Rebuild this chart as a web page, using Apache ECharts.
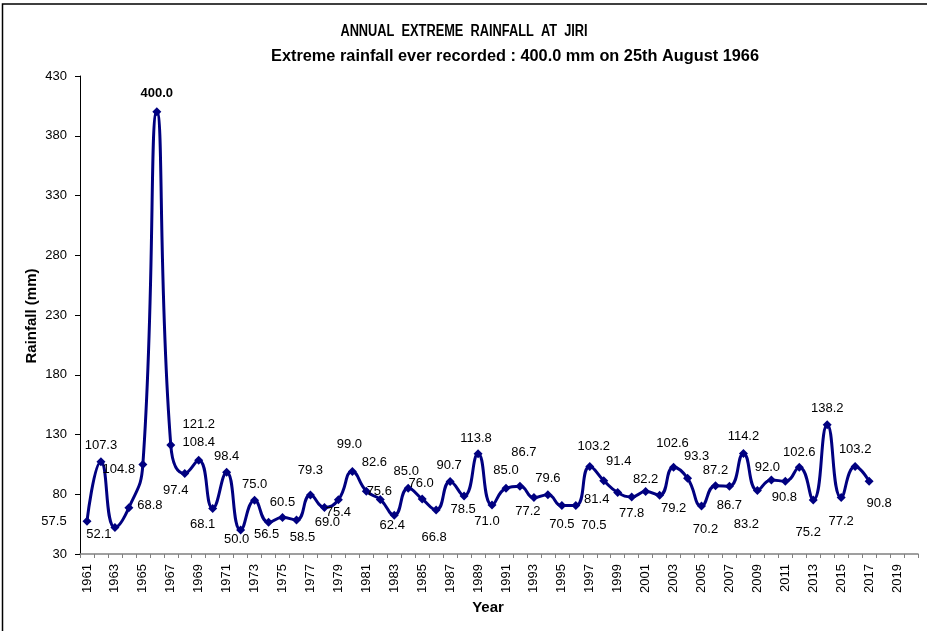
<!DOCTYPE html>
<html>
<head>
<meta charset="utf-8">
<title>Annual Extreme Rainfall at Jiri</title>
<script src="https://cdn.jsdelivr.net/npm/echarts@6/dist/echarts.min.js"></script>
<style>
  html, body { margin: 0; padding: 0; background: #fff; }
  #chart { width: 927px; height: 631px; }
</style>
</head>
<body>
<div id="chart"></div>
<script>
// years on the category axis (last three have no value)
const years = [
  '1961', '1962', '1963', '1964', '1965', '1966', '1967', '1968', '1969', '1970',
  '1971', '1972', '1973', '1974', '1975', '1976', '1977', '1978', '1979', '1980',
  '1981', '1982', '1983', '1984', '1985', '1986', '1987', '1988', '1989', '1990',
  '1991', '1992', '1993', '1994', '1995', '1996', '1997', '1998', '1999', '2000',
  '2001', '2002', '2003', '2004', '2005', '2006', '2007', '2008', '2009', '2010',
  '2011', '2012', '2013', '2014', '2015', '2016', '2017', '2018', '2019', '2020',
];

// annual extreme rainfall (mm), 1961 - 2017
const rainfall = [
  57.5, 107.3, 52.1, 68.8, 104.8, 400.0, 121.2, 97.4, 108.4, 68.1,
  98.4, 50.0, 75.0, 56.5, 60.5, 58.5, 79.3, 69.0, 75.4, 99.0,
  82.6, 75.6, 62.4, 85.0, 76.0, 66.8, 90.7, 78.5, 113.8, 71.0,
  85.0, 86.7, 77.2, 79.6, 70.5, 70.5, 103.2, 91.4, 81.4, 77.8,
  82.2, 79.2, 102.6, 93.3, 70.2, 87.2, 86.7, 114.2, 83.2, 92.0,
  90.8, 102.6, 75.2, 138.2, 77.2, 103.2, 90.8,
];

const yTicks = [30, 80, 130, 180, 230, 280, 330, 380, 430];

// where each value label sits relative to its marker (px)
const labelOffsets = [
  [-33, 0], [0, -16], [-16, 7], [21, -2], [-24, 5], [0, -18], [28, -21], [-9, 17], [0, -18], [-10, 16],
  [0, -16], [-4, 9], [0, -16], [-2, 12], [0, -15], [6, 17], [0, -25], [3, 15], [0, 13], [-3, -27],
  [8, -29], [-1, -8], [-2, 10], [-2, -17], [-1, -16], [-2, 27], [-1, -16], [-1, 13], [-2, -15], [-5, 16],
  [0, -18], [4, -34], [-6, 14], [0, -16], [0, 19], [18, 20], [4, -20], [15, -19], [-21, 7], [0, 17],
  [0, -12], [14, 13], [-1, -24], [9, -22], [4, 23], [0, -15], [0, 19], [0, -17], [-11, 34], [-4, -12],
  [-1, 16], [0, -15], [-5, 32], [0, -16], [0, 24], [0, -17], [10, 22],
];

const FONT = "'Liberation Sans', Arial, sans-serif";
const maxValue = Math.max(...rainfall);

const seriesData = rainfall.map((v, i) => ({
  value: v,
  label: {
    offset: labelOffsets[i],
    fontWeight: v === maxValue ? 'bold' : 'normal',
  },
}));

const chart = echarts.init(document.getElementById('chart'));

// helper for the centred texts drawn as graphics
function centredText(text, x, y, size, extra) {
  return Object.assign({
    type: 'text',
    x: x,
    y: y,
    silent: true,
    style: {
      text: text,
      font: 'bold ' + size + 'px ' + FONT,
      fill: '#000',
      textAlign: 'center',
      textVerticalAlign: 'middle',
    },
  }, extra || {});
}

chart.setOption({
  animation: false,
  backgroundColor: '#fff',
  textStyle: { fontFamily: FONT },
  grid: {
    left: 80,
    right: 9,
    top: 76,
    bottom: 77,
    containLabel: false,
  },
  graphic: [
    {
      type: 'rect',
      shape: { x: 2.5, y: 4, width: 940, height: 640 },
      style: { fill: 'none', stroke: '#000', lineWidth: 1.5 },
      silent: true,
    },
    centredText('ANNUAL  EXTREME  RAINFALL  AT  JIRI', 464, 32, 16, { scaleX: 0.8 }),
    centredText('Extreme rainfall ever recorded : 400.0 mm on 25th August 1966', 515, 57, 16, { scaleX: 1.02 }),
    centredText('Rainfall (mm)', 32, 316, 15, { rotation: Math.PI / 2 }),
    centredText('Year', 488, 608, 15),
  ],
  xAxis: {
    type: 'category',
    data: years,
    boundaryGap: true,
    axisLine: { lineStyle: { color: '#808080', width: 1.5 } },
    axisTick: {
      show: true,
      interval: 0,
      length: 4,
      lineStyle: { color: '#808080' },
    },
    axisLabel: {
      interval: 1,
      rotate: 90,
      margin: 10,
      fontSize: 13,
      color: '#000',
      fontFamily: FONT,
    },
    splitLine: { show: false },
  },
  yAxis: {
    type: 'value',
    min: yTicks[0],
    max: yTicks[yTicks.length - 1],
    interval: 50,
    axisLine: { show: true, lineStyle: { color: '#000', width: 1 } },
    axisTick: { show: true, length: 5, lineStyle: { color: '#000' } },
    axisLabel: {
      margin: 13,
      fontSize: 13,
      color: '#000',
      fontFamily: FONT,
    },
    splitLine: { show: false },
  },
  series: [
    {
      name: 'Rainfall',
      type: 'line',
      data: seriesData,
      smooth: 0.5,
      symbol: 'diamond',
      symbolSize: 9,
      lineStyle: { color: '#000080', width: 3 },
      itemStyle: { color: '#000080' },
      label: {
        show: true,
        position: 'inside',
        formatter: (p) => p.value.toFixed(1),
        fontSize: 13,
        color: '#000',
        fontFamily: FONT,
      },
      emphasis: { disabled: true },
    },
  ],
});
</script>
</body>
</html>
